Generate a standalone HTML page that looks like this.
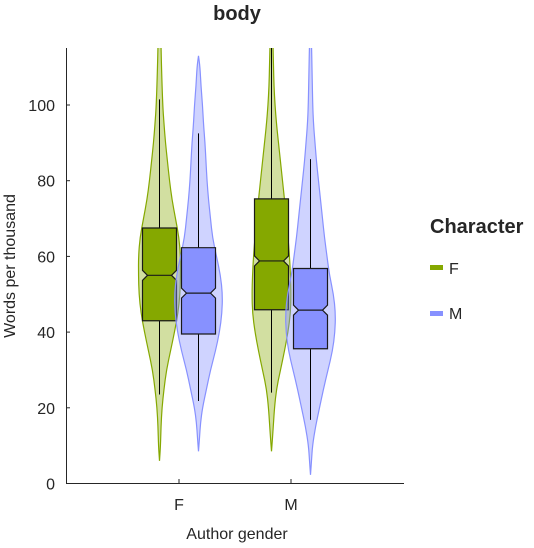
<!DOCTYPE html>
<html><head><meta charset="utf-8"><style>
body{margin:0;background:#fff;}
svg text{font-family:"Liberation Sans",Arial,sans-serif;fill:#262626;}
</style></head><body>
<svg id="chart" width="534" height="543" viewBox="0 0 534 543">
<defs><clipPath id="plotclip"><rect x="66" y="48" width="340" height="436"/></clipPath></defs>
<text x="237" y="20" font-size="20" font-weight="bold" text-anchor="middle">body</text>
<g id="marks" clip-path="url(#plotclip)"></g>
<g id="axes"></g>
<text x="237" y="539" font-size="16" text-anchor="middle">Author gender</text>
<text transform="translate(15,266) rotate(-90)" font-size="16" text-anchor="middle">Words per thousand</text>
<g>
<text x="430" y="233" font-size="20" font-weight="bold">Character</text>
<g><rect x="430" y="265" width="13" height="5" fill="#85A800"/><text x="449" y="274" font-size="16">F</text></g>
<g><rect x="430" y="311" width="13" height="5" fill="#8791FF"/><text x="449" y="319" font-size="16">M</text></g>
</g>
</svg>
<script>
const categories=["F","M"];
const seriesNames=["F","M"];
const yTicks=[0,20,40,60,80,100];
const q1=[[43,39.5],[45.9,35.6]];
const median=[[55,50.3],[58.8,45.8]];
const q3=[[67.5,62.3],[75.2,56.8]];
const whiskerLo=[[23.5,21.8],[24,16.8]];
const whiskerHi=[[101.5,92.5],[116,85.7]];
const densVals=[
[[6,10,15,20,25,30,35,40,45,50,55,60,65,70,75,80,85,90,95,100,110,116],[8.5,12,16,20,25,30,35,40,45,50,55,60,65,70,75,80,85,90,95,100,105,110,113]],
[[8.5,12,16,20,25,30,35,40,45,50,55,60,65,70,75,80,85,90,95,100,105,110,116],[2.3,6,10,15,20,25,30,35,40,45,50,55,60,65,70,75,80,85,90,95,100,110,116]]];
const densWidths=[
[[0,1,1.5,2.5,4.5,7,11,15,18.5,20.5,21,21,19.5,16,12.5,10,8,6,4.5,3.2,2,1.5],[0,1,2,4,8,12,17,21,23.5,24,22,18,14,12,10,8.5,7.5,6.5,5,4,2.5,1.5,0]],
[[0,1,2,3,5,9,13,16.5,19,19.5,19,18,16.5,15,13,11,9,7,5,3.5,2.5,2,1.5],[0,1,2,5,9,13,17.5,22,24.5,25,23,19,16.5,14,12,10,8,6,4.5,3,2.2,1.5,1]]];
const NS="http://www.w3.org/2000/svg";
const y=v=>483.5-v*3.785;
const catX=i=>179+i*112;
const offX=j=>j===0?-19.5:19.5;
const cols=[{fill:"#85A800",vf:"rgba(133,168,0,0.37)",vs:"#85A800"},{fill:"#8791FF",vf:"rgba(135,145,255,0.4)",vs:"#8791FF"}];
const marks=document.getElementById("marks"),axes=document.getElementById("axes");
function mk(tag,attrs,parent){const e=document.createElementNS(NS,tag);for(const k in attrs)e.setAttribute(k,attrs[k]);parent.appendChild(e);return e;}
function smooth(pts){let d="M"+pts[0][0]+","+pts[0][1];for(let i=1;i<pts.length;i++){const p0=pts[i-1],p1=pts[i];const my=(p0[1]+p1[1])/2;d+=" Q"+p0[0]+","+p0[1]+" "+((p0[0]+p1[0])/2)+","+my;}d+=" L"+pts[pts.length-1][0]+","+pts[pts.length-1][1];return d;}
categories.forEach((c,i)=>{seriesNames.forEach((s,j)=>{
 const cx=catX(i)+offX(j);const vals=densVals[i][j],ws=densWidths[i][j];
 const right=vals.map((v,k)=>[cx+ws[k],y(v)]);const left=vals.map((v,k)=>[cx-ws[k],y(v)]).reverse();
 let d=smooth(right)+" L"+left[0][0]+","+left[0][1]+smooth(left).replace(/^M[^ Q]+/,"")+" Z";
 const vi=mk("path",{d:d,fill:cols[j].vf,stroke:cols[j].vs,"stroke-width":1.2},marks);
 
 
 const wl=mk("line",{x1:cx,x2:cx,y1:y(whiskerLo[i][j]),y2:y(whiskerHi[i][j]),stroke:"#000","stroke-width":1},marks);
 
 
 const hw=17,nd=5,nh=5;const t=y(q3[i][j]),b=y(q1[i][j]),m=y(median[i][j]);
 const bd=`M${cx-hw},${t} L${cx+hw},${t} L${cx+hw},${m-nh} L${cx+hw-nd},${m} L${cx+hw},${m+nh} L${cx+hw},${b} L${cx-hw},${b} L${cx-hw},${m+nh} L${cx-hw+nd},${m} L${cx-hw},${m-nh} Z`;
 const bx=mk("path",{d:bd,fill:cols[j].fill,stroke:"#1a1a1a","stroke-width":1.2},marks);
 
 
 const ml=mk("line",{x1:cx-hw+nd,x2:cx+hw-nd,y1:m,y2:m,stroke:"#1a1a1a","stroke-width":1.2},marks);
 
 
});});
const ya=mk("line",{x1:66.5,x2:66.5,y1:48,y2:484,stroke:"#262626","stroke-width":1},axes);


const xa=mk("line",{x1:66,x2:404,y1:483.5,y2:483.5,stroke:"#262626","stroke-width":1},axes);


yTicks.forEach(v=>{mk("line",{x1:66,x2:70,y1:y(v),y2:y(v),stroke:"#262626"},axes);
 const t=mk("text",{x:55,y:y(v)+6,"font-size":16,"text-anchor":"end"},axes);t.textContent=v;
 
 });
categories.forEach((c,i)=>{mk("line",{x1:catX(i),x2:catX(i),y1:483.5,y2:479,stroke:"#262626"},axes);
 const t=mk("text",{x:catX(i),y:510,"font-size":16,"text-anchor":"middle"},axes);t.textContent=c;
 
 });
</script>
</body></html>
